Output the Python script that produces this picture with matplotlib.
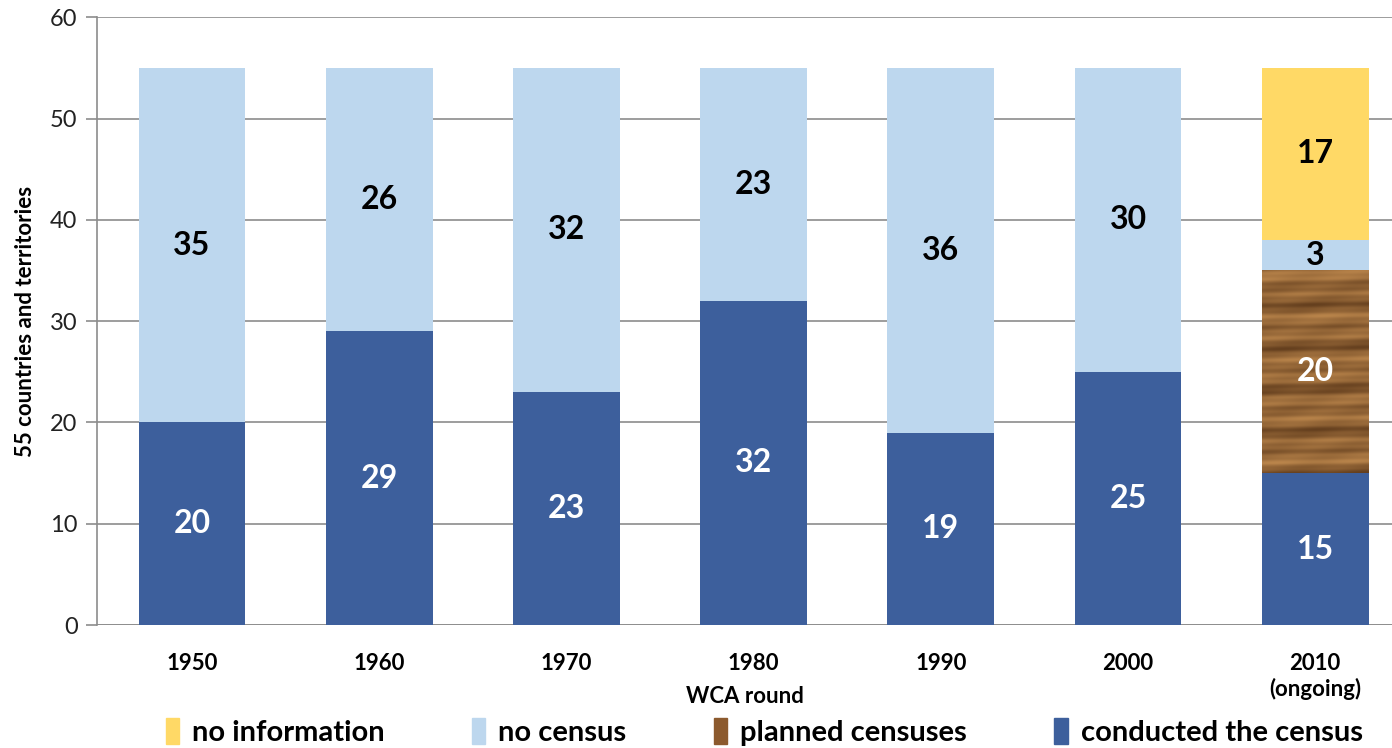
import numpy as np
import matplotlib
matplotlib.use("Agg")
import matplotlib.pyplot as plt
from matplotlib.patches import Patch

# data
rounds = ["1950", "1960", "1970", "1980", "1990", "2000", "2010\n(ongoing)"]
conducted = [20, 29, 23, 32, 19, 25, 15]
planned = [0, 0, 0, 0, 0, 0, 20]
no_census = [35, 26, 32, 23, 36, 30, 3]
no_info = [0, 0, 0, 0, 0, 0, 17]

c_conducted = "#3D5F9C"
c_planned = "#8C5A2E"
c_nocensus = "#BDD7EE"
c_noinfo = "#FFD966"

plt.rcParams['font.family'] = ['Lato', 'DejaVu Sans']

fig = plt.figure(figsize=(13.92, 7.48), dpi=100)
ax = fig.add_axes([0.0697, 0.1644, 0.9303, 0.8126])

x = np.arange(len(rounds))
w = 0.57
conducted = np.array(conducted)
planned = np.array(planned)
no_census = np.array(no_census)
no_info = np.array(no_info)

ax.bar(x, conducted, w, color=c_conducted, zorder=2)
pb = ax.bar(x, planned, w, bottom=conducted, color=c_planned, zorder=2)
ax.bar(x, no_census, w, bottom=conducted + planned, color=c_nocensus, zorder=2)
ax.bar(x, no_info, w, bottom=conducted + planned + no_census, color=c_noinfo, zorder=2)

# wood-like texture for the planned segment (deterministic horizontal streaks)
rows = np.linspace(0, 1, 160)
cols = np.linspace(0, 1, 40)
R, C = np.meshgrid(cols, rows)
tex = (0.55 + 0.2 * np.sin(0.8 * R + 61 * C) + 0.13 * np.sin(29 * C + 0.5 * R)
       + 0.1 * np.sin(173 * C + 1.5 * R) + 0.06 * np.sin(9 * R + 40 * C))
tex = np.clip(tex, 0, 1)
dark = np.array([0.36, 0.22, 0.10])
light = np.array([0.74, 0.53, 0.30])
img = dark[None, None, :] + tex[:, :, None] * (light - dark)[None, None, :]
for rect in pb.patches:
    if rect.get_height() <= 0:
        continue
    x0, y0 = rect.get_x(), rect.get_y()
    im = ax.imshow(img, extent=(x0, x0 + rect.get_width(), y0, y0 + rect.get_height()),
                   aspect='auto', zorder=2.5, interpolation='bilinear')
    im.set_clip_path(rect)

# value labels
def label(vals, bottoms, color):
    for xi, v, b in zip(x, vals, bottoms):
        if v > 0:
            ax.text(xi, b + v / 2, str(v), ha='center', va='center', color=color,
                    fontsize=23, fontweight='bold', zorder=4)

label(conducted, np.zeros(len(x)), "white")
label(planned, conducted, "white")
label(no_census, conducted + planned, "black")
label(no_info, conducted + planned + no_census, "black")

ax.set_xlim(-0.507, 6.41)
ax.set_ylim(0, 60)
ax.set_yticks(range(0, 61, 10))
ax.yaxis.grid(True, color="#8C8C8C", linewidth=1.2, zorder=0)
ax.set_axisbelow(True)
for s in ["top", "right", "bottom"]:
    ax.spines[s].set_visible(False)
ax.spines["left"].set_color("#8C8C8C")
ax.spines["left"].set_linewidth(1.2)
ax.axhline(0, color="#8C8C8C", linewidth=1.2, zorder=1)
ax.tick_params(axis='y', length=8, width=1.2, color="#8C8C8C", labelsize=17,
               labelcolor="#222222", pad=6)
ax.tick_params(axis='x', length=0, pad=20)
ax.set_xticks(x)
ax.set_xticklabels(rounds, fontsize=16, fontweight='bold', linespacing=1.25)
ax.set_xlabel("WCA round", fontsize=16, fontweight='bold', labelpad=-10)
ax.set_ylabel("55 countries and territories", fontsize=16, fontweight='bold', labelpad=10)

handles = [Patch(color=c_noinfo), Patch(color=c_nocensus),
           Patch(color=c_planned), Patch(color=c_conducted)]
labels = ["no information", "no census", "planned censuses", "conducted the census"]
fig.legend(handles, labels, loc='center', bbox_to_anchor=(0.549, 0.022), ncol=4,
           frameon=False, prop={'size': 21, 'weight': 'bold'}, handlelength=0.45,
           handleheight=1.0, handletextpad=0.45, columnspacing=3.0)

fig.savefig("out.png", dpi=100)
